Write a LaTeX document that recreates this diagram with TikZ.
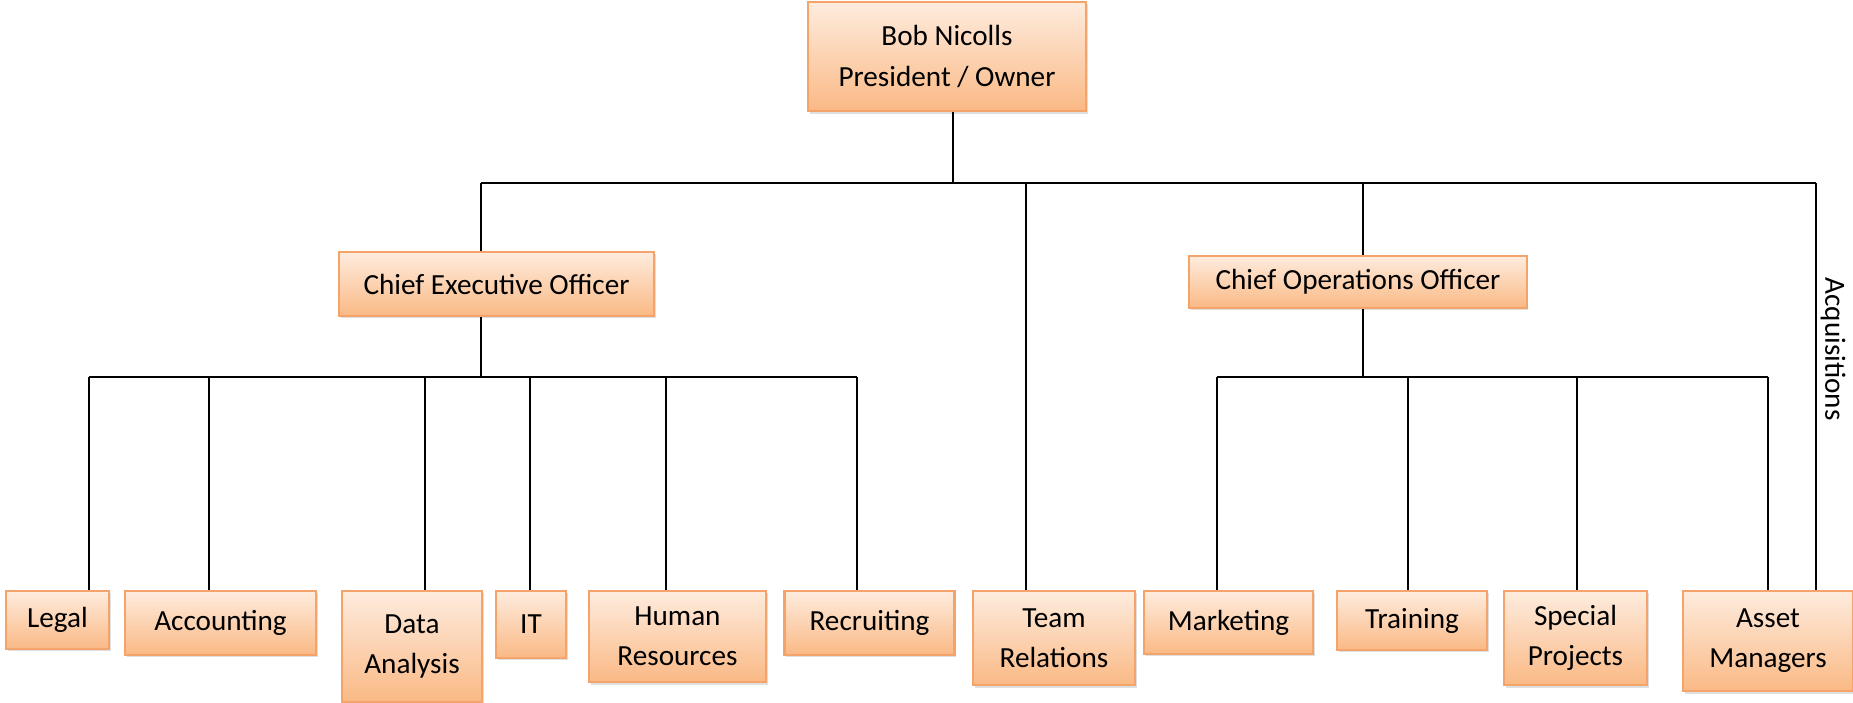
\documentclass[tikz,border=0pt]{standalone}
\usepackage{fontspec}
\setmainfont{Carlito}
\usetikzlibrary{shadows}
\definecolor{boxedge}{HTML}{F4A46A}
\definecolor{boxtop}{HTML}{FEECDE}
\definecolor{boxbot}{HTML}{FAB985}
\tikzset{
  unit/.style={draw=boxedge, line width=0.6pt, top color=boxtop, bottom color=boxbot,
    align=center, inner sep=0pt, font=\fontsize{8.3}{11.4}\selectfont,
    drop shadow={shadow xshift=0.5pt, shadow yshift=-0.7pt, opacity=0.25}},
  link/.style={line width=0.8pt}
}
\begin{document}
\begin{tikzpicture}[x=0.01cm, y=-0.01cm]
\useasboundingbox (0,0) rectangle (1853,702);
% top
\node[unit, minimum width=2.78cm, minimum height=1.09cm] (owner) at (947,56.5){Bob Nicolls\\President / Owner};
\node[unit, minimum width=3.15cm, minimum height=0.64cm] (ceo) at (496.5,284){Chief Executive Officer};
\node[unit, minimum width=3.37cm, minimum height=0.52cm] (coo) at (1358,282){Chief Operations Officer};
% bottom row
\node[unit, minimum width=1.03cm, minimum height=0.58cm] (legal) at (57.5,620){Legal};
\node[unit, minimum width=1.91cm, minimum height=0.64cm] (acct) at (220.5,623){Accounting};
\node[unit, minimum width=1.40cm, minimum height=1.11cm] (data) at (412,646.5){Data\\Analysis};
\node[unit, minimum width=0.70cm, minimum height=0.67cm] (it) at (531,624.5){IT};
\node[unit, minimum width=1.77cm, minimum height=0.91cm] (hr) at (677.5,636.5){Human\\Resources};
\node[unit, minimum width=1.70cm, minimum height=0.64cm] (recr) at (869.5,623){Recruiting};
\node[unit, minimum width=1.62cm, minimum height=0.94cm] (team) at (1054,638){Team\\Relations};
\node[unit, minimum width=1.69cm, minimum height=0.63cm] (mkt) at (1228.5,622.5){Marketing};
\node[unit, minimum width=1.50cm, minimum height=0.59cm] (train) at (1412,620.5){Training};
\node[unit, minimum width=1.43cm, minimum height=0.94cm] (spec) at (1575.5,638){Special\\Projects};
\node[unit, minimum width=1.70cm, minimum height=1.00cm] (asset) at (1768,641){Asset\\Managers};
\node[rotate=-90, inner sep=0pt, font=\fontsize{8.3}{10}\selectfont] (acq) at (1833,349){Acquisitions};
% buses
\coordinate (t0) at (953,183);
\coordinate (t1) at (481,183);
\coordinate (t2) at (1026,183);
\coordinate (t3) at (1363,183);
\coordinate (t4) at (1816,183);
\coordinate (c0) at (481,377);
\coordinate (c1) at (89,377);
\coordinate (c2) at (209,377);
\coordinate (c3) at (425,377);
\coordinate (c4) at (530,377);
\coordinate (c5) at (666,377);
\coordinate (c6) at (857,377);
\coordinate (o0) at (1363,377);
\coordinate (o1) at (1217,377);
\coordinate (o2) at (1408,377);
\coordinate (o3) at (1577,377);
\coordinate (o4) at (1768,377);
\draw[link] (t0 |- owner.south) -- (t0);
\draw[link] (t1) -- (t4);
\draw[link] (t1) -- (t1 |- ceo.north);
\draw[link] (t2) -- (t2 |- team.north);
\draw[link] (t3) -- (t3 |- coo.north);
\draw[link] (t4) -- (t4 |- asset.north);
\draw[link] (c0 |- ceo.south) -- (c0);
\draw[link] (c1) -- (c6);
\draw[link] (c1) -- (c1 |- legal.north);
\draw[link] (c2) -- (c2 |- acct.north);
\draw[link] (c3) -- (c3 |- data.north);
\draw[link] (c4) -- (c4 |- it.north);
\draw[link] (c5) -- (c5 |- hr.north);
\draw[link] (c6) -- (c6 |- recr.north);
\draw[link] (o0 |- coo.south) -- (o0);
\draw[link] (o1) -- (o4);
\draw[link] (o1) -- (o1 |- mkt.north);
\draw[link] (o2) -- (o2 |- train.north);
\draw[link] (o3) -- (o3 |- spec.north);
\draw[link] (o4) -- (o4 |- asset.north);
\end{tikzpicture}
\end{document}
